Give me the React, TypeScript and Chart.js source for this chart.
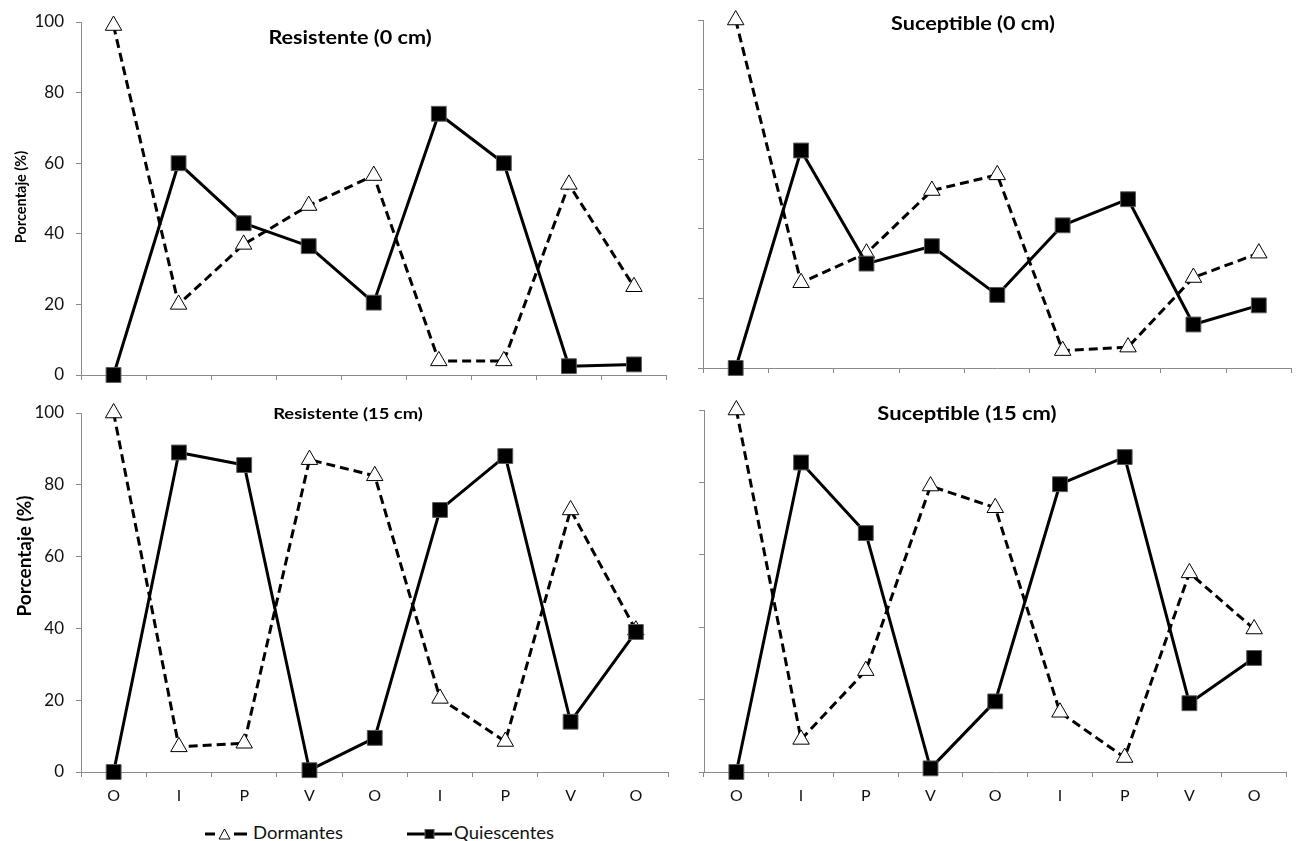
import React, { useEffect, useRef } from 'react';
import { Chart, registerables } from 'chart.js';

Chart.register(...registerables);

// ---- data ----
const categories = ['O', 'I', 'P', 'V', 'O', 'I', 'P', 'V', 'O'];
const yTickValues = [0, 20, 40, 60, 80, 100];

const resist0Dorm = [99, 20, 37, 48, 56.5, 4, 4, 54, 25];
const resist0Quies = [0, 60, 43, 36.5, 20.5, 74, 60, 2.5, 3];

const suscept0Dorm = [100, 24.5, 33, 51, 55.5, 5, 6, 26, 33];
const suscept0Quies = [0, 62.5, 30, 35, 21, 41, 48.5, 12.5, 18];

const resist15Dorm = [100, 7, 8, 87, 82.5, 20.5, 8.5, 73, 39.5];
const resist15Quies = [0, 89, 85.5, 0.5, 9.5, 73, 88, 14, 39];

const suscept15Dorm = [100, 9, 28, 79, 73, 16.5, 4, 55, 39.5];
const suscept15Quies = [0, 85.5, 66, 1, 19.5, 79.5, 87, 19, 31.5];

const FONT = 'Lato, "Open Sans", "DejaVu Sans", sans-serif';
const AXIS_COLOR = '#8a8a8a';

type PanelProps = {
  left: number;
  top: number;
  width: number;
  height: number;
  axisW: number;
  xAxisH: number;
  padTop: number;
  padRight: number;
  showY: boolean;
  showX: boolean;
  dorm: number[];
  quies: number[];
};

function Panel(p: PanelProps) {
  const ref = useRef<HTMLCanvasElement>(null);
  useEffect(() => {
    if (!ref.current) return;
    const chart = new Chart(ref.current, {
      type: 'line',
      data: {
        labels: categories,
        datasets: [
          {
            label: 'Quiescentes',
            data: p.quies,
            borderColor: '#000',
            borderWidth: 3,
            borderJoinStyle: 'round',
            pointStyle: 'rect',
            pointRadius: 10.5,
            pointBackgroundColor: '#000',
            pointBorderColor: '#5a5a5a',
            pointBorderWidth: 1,
            order: 0,
            clip: false,
            tension: 0,
            fill: false,
          } as any,
          {
            label: 'Dormantes',
            data: p.dorm,
            borderColor: '#000',
            borderWidth: 3,
            borderDash: [9, 5],
            borderJoinStyle: 'round',
            pointStyle: 'triangle',
            pointRadius: 9.5,
            pointBackgroundColor: '#fff',
            pointBorderColor: '#000',
            pointBorderWidth: 1,
            order: 1,
            clip: false,
            tension: 0,
            fill: false,
          } as any,
        ],
      },
      options: {
        animation: false,
        responsive: false,
        maintainAspectRatio: false,
        events: [],
        layout: { padding: { top: p.padTop, right: p.padRight, left: 0, bottom: 0 } },
        plugins: {
          legend: { display: false },
          tooltip: { enabled: false },
          title: { display: false },
        },
        scales: {
          x: {
            type: 'category',
            offset: true,
            grid: {
              display: true,
              drawOnChartArea: false,
              drawTicks: true,
              tickLength: 5,
              color: AXIS_COLOR,
              offset: true,
            },
            border: { display: true, color: AXIS_COLOR, width: 1 },
            ticks: {
              display: p.showX,
              font: { family: FONT, size: 16 },
              color: '#111',
              padding: 9,
              maxRotation: 0,
              autoSkip: false,
            },
            afterFit: (s: any) => {
              s.height = p.xAxisH;
            },
          },
          y: {
            type: 'linear',
            min: 0,
            max: 100,
            afterBuildTicks: (s: any) => {
              s.ticks = yTickValues.map((v) => ({ value: v }));
            },
            grid: {
              display: true,
              drawOnChartArea: false,
              drawTicks: true,
              tickLength: 5,
              color: AXIS_COLOR,
            },
            border: { display: true, color: AXIS_COLOR, width: 1 },
            ticks: {
              display: p.showY,
              font: { family: FONT, size: 17 },
              color: '#111',
              padding: 12,
            },
            afterFit: (s: any) => {
              s.width = p.axisW;
            },
          },
        },
      } as any,
    });
    return () => chart.destroy();
  }, []);
  return (
    <canvas
      ref={ref}
      width={p.width}
      height={p.height}
      style={{ position: 'absolute', left: p.left, top: p.top, width: p.width, height: p.height }}
    />
  );
}

function Title(props: { text: string; cx: number; top: number; size: number; sx: number }) {
  return (
    <div
      style={{
        position: 'absolute',
        left: props.cx,
        top: props.top,
        transform: `translateX(-50%) scaleX(${props.sx})`,
        whiteSpace: 'nowrap',
        fontFamily: FONT,
        fontWeight: 700,
        fontSize: props.size,
        lineHeight: `${props.size}px`,
        color: '#000',
      }}
    >
      {props.text}
    </div>
  );
}

function YTitle(props: { cx: number; cy: number; size: number }) {
  return (
    <div
      style={{
        position: 'absolute',
        left: props.cx,
        top: props.cy,
        transform: 'translate(-50%, -50%) rotate(-90deg)',
        whiteSpace: 'nowrap',
        fontFamily: FONT,
        fontWeight: 700,
        fontSize: props.size,
        lineHeight: `${props.size}px`,
        color: '#000',
      }}
    >
      Porcentaje (%)
    </div>
  );
}

const legendTextStyle: React.CSSProperties = {
  position: 'absolute',
  top: 825,
  fontFamily: FONT,
  fontSize: 16.5,
  lineHeight: '16.5px',
  color: '#111',
  whiteSpace: 'nowrap',
  transform: 'scaleX(1.12)',
  transformOrigin: 'left center',
};

export default function App() {
  return (
    <div
      style={{
        position: 'absolute',
        left: 0,
        top: 0,
        width: 1303,
        height: 841,
        overflow: 'hidden',
        background: '#fff',
      }}
    >
      <Panel left={0} top={-4} width={678} height={405} axisW={81} xAxisH={26} padTop={26} padRight={4}
        showY={true} showX={false} dorm={resist0Dorm} quies={resist0Quies} />
      <Panel left={690} top={5} width={613} height={375} axisW={13} xAxisH={12} padTop={15} padRight={3}
        showY={false} showX={false} dorm={suscept0Dorm} quies={suscept0Quies} />
      <Panel left={0} top={387} width={680} height={425} axisW={81} xAxisH={40} padTop={26} padRight={4}
        showY={true} showX={true} dorm={resist15Dorm} quies={resist15Quies} />
      <Panel left={690} top={395} width={608} height={417} axisW={14} xAxisH={40} padTop={15} padRight={10}
        showY={false} showX={true} dorm={suscept15Dorm} quies={suscept15Quies} />

      <Title text="Resistente (0 cm)" cx={350} top={28} size={18} sx={1.2} />
      <Title text="Suceptible (0 cm)" cx={973} top={14} size={18} sx={1.2} />
      <Title text="Resistente (15 cm)" cx={348} top={405} size={16} sx={1.15} />
      <Title text="Suceptible (15 cm)" cx={967} top={404} size={18} sx={1.22} />

      <YTitle cx={21} cy={197} size={14.5} />
      <YTitle cx={23} cy={556} size={19} />

      <svg style={{ position: 'absolute', left: 0, top: 820, width: 500, height: 30 }} width={500} height={30}>
        <line x1={205} y1={14} x2={215} y2={14} stroke="#000" strokeWidth={3} />
        <line x1={234} y1={14} x2={247} y2={14} stroke="#000" strokeWidth={3} />
        <polygon points="224.5,9 219,19 230,19" fill="#fff" stroke="#000" strokeWidth={1} />
        <line x1={407} y1={14} x2={452} y2={14} stroke="#000" strokeWidth={3} />
        <rect x={425} y={9.5} width={9} height={9} fill="#000" stroke="#5a5a5a" strokeWidth={1} />
      </svg>
      <div style={{ ...legendTextStyle, left: 253 }}>Dormantes</div>
      <div style={{ ...legendTextStyle, left: 454 }}>Quiescentes</div>
    </div>
  );
}
